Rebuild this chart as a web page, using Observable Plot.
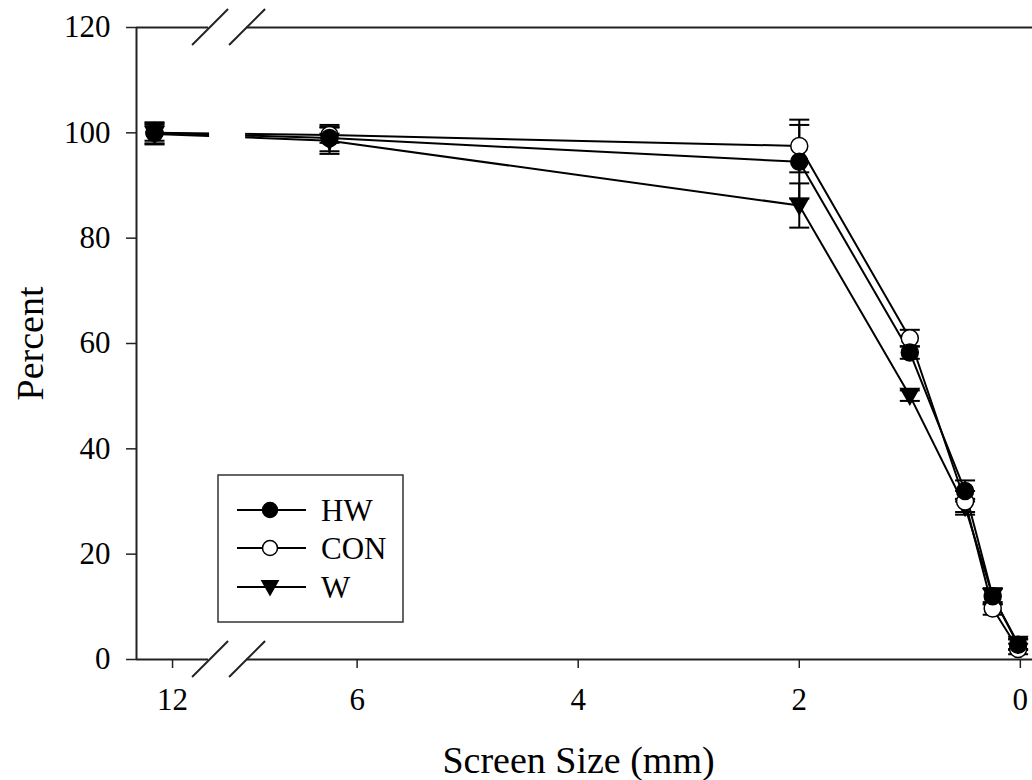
<!DOCTYPE html>
<html><head><meta charset="utf-8">
<script src="https://cdn.jsdelivr.net/npm/d3@7"></script>
<script src="https://cdn.jsdelivr.net/npm/@observablehq/plot@0.6"></script>
<style>body{margin:0;background:#fff}</style>
</head><body><div id="chart"></div>
<script>
// ---- data ----
const sizes = [12.5, 6.25, 2, 1, 0.5, 0.25, 0.02];
const seriesNames = ["HW", "CON", "W"];
const hwValues  = [100.0, 99.0, 94.5, 58.3, 32.0, 12.0, 2.8];
const hwErrors  = [2.0, 2.5, 7.0, 1.2, 2.0, 1.5, 1.0];
const conValues = [100.0, 99.6, 97.5, 61.0, 30.0, 9.7, 2.0];
const conErrors = [1.5, 1.5, 5.0, 1.6, 2.0, 1.2, 1.0];
const wValues   = [99.8, 98.5, 86.2, 50.1, 29.0, 12.0, 3.0];
const wErrors   = [2.0, 2.5, 4.2, 1.0, 1.5, 1.5, 1.0];
const xTickValues = [12, 6, 4, 2, 0];
const xTickLabels = ["12", "6", "4", "2", "0"];
const yTickValues = [0, 20, 40, 60, 80, 100, 120];
const xTitle = "Screen Size (mm)";
const yTitle = "Percent";

// ---- broken x axis: left segment 13..11 compressed, right segment 7..0 ----
const xpos = v => v >= 10 ? 7.344 + (v - 11) * 0.326 : v;
const xLeftEdge = xpos(13), breakLo = xpos(11), breakHi = 7, xRightEdge = -0.11;

const valuesBySeries = [hwValues, conValues, wValues];
const errorsBySeries = [hwErrors, conErrors, wErrors];
const rows = [];
seriesNames.forEach((s, k) => sizes.forEach((sz, i) => rows.push({
  series: s, size: sz, value: valuesBySeries[k][i], err: errorsBySeries[k][i]
})));

// symbols
const triDown = {draw(ctx, size) {
  const r = Math.sqrt(size / Math.PI);
  ctx.moveTo(-r * 1.08, -r * 0.85);
  ctx.lineTo(r * 1.08, -r * 0.85);
  ctx.lineTo(0, r * 1.05);
  ctx.closePath();
}};
const capSym = {draw(ctx, size) {
  const r = Math.sqrt(size / Math.PI);
  ctx.moveTo(-r, 0); ctx.lineTo(r, 0);
}};
const circleSym = {draw(ctx, size) {
  const r = Math.sqrt(size / Math.PI);
  ctx.moveTo(r, 0); ctx.arc(0, 0, r, 0, 2 * Math.PI);
}};
const styleOf = {
  HW: {symbol: circleSym, fill: "black"},
  CON: {symbol: circleSym, fill: "white"},
  W: {symbol: triDown, fill: "black"}
};
const drawOrder = ["W", "CON", "HW"];

const X = d => xpos(d.size);
const FONT = "'Liberation Serif', 'Times New Roman', serif";

function breakMark(index, scales, values, dims) {
  const {x, y} = scales;
  const g = d3.create("svg:g");
  const xa = x(breakLo), xb = x(breakHi);
  const yT = y(120), yB = y(0);
  g.append("rect").attr("x", xa + 1).attr("y", yT + 2)
    .attr("width", xb - xa - 2).attr("height", yB - yT - 4).attr("fill", "white");
  for (const yy of [yT, yB]) for (const xx of [xa + 2, xb + 1]) {
    g.append("line").attr("x1", xx - 18).attr("y1", yy + 18)
      .attr("x2", xx + 18).attr("y2", yy - 18)
      .attr("stroke", "#222").attr("stroke-width", 2);
  }
  return g.node();
}

function legendMark(index, scales, values, dims) {
  const g = d3.create("svg:g");
  const left = dims.marginLeft + 82;
  const top = dims.height - dims.marginBottom - 184;
  g.append("rect").attr("x", left).attr("y", top).attr("width", 185).attr("height", 147)
    .attr("fill", "white").attr("stroke", "#333").attr("stroke-width", 1.5);
  const rowsY = [35, 73, 112];
  seriesNames.forEach((s, i) => {
    const yy = top + rowsY[i];
    g.append("line").attr("x1", left + 19).attr("x2", left + 88).attr("y1", yy).attr("y2", yy)
      .attr("stroke", "black").attr("stroke-width", 2);
    const p = d3.path();
    styleOf[s].symbol.draw(p, Math.PI * 7.5 * 7.5);
    g.append("path").attr("d", p.toString()).attr("transform", `translate(${left + 52},${yy})`)
      .attr("fill", styleOf[s].fill).attr("stroke", "black").attr("stroke-width", 1.5);
    g.append("text").attr("x", left + 103).attr("y", yy).attr("dy", "0.35em")
      .attr("text-anchor", "start")
      .attr("font-family", FONT).attr("font-size", 31).attr("fill", "black").text(s);
  });
  return g.node();
}

const frameSegs = [{a: xLeftEdge, b: breakLo}, {a: breakHi, b: xRightEdge}];

const chart = Plot.plot({
  width: 1032, height: 780,
  marginLeft: 136, marginRight: 0, marginTop: 27, marginBottom: 121,
  style: {fontFamily: FONT, background: "white", color: "black"},
  x: {domain: [xLeftEdge, xRightEdge], label: null},
  y: {domain: [0, 120], label: null},
  marks: [
    Plot.ruleY(frameSegs, {y: () => 0, x1: "a", x2: "b", stroke: "#222", strokeWidth: 2}),
    Plot.ruleY(frameSegs, {y: () => 120, x1: "a", x2: "b", stroke: "#222", strokeWidth: 2}),
    Plot.ruleX([xLeftEdge], {y1: 0, y2: 120, stroke: "#222", strokeWidth: 2}),
    Plot.axisY({ticks: yTickValues, tickSize: 10, tickFormat: () => "", stroke: "#222", strokeWidth: 1.5, label: null}),
    Plot.axisX({ticks: xTickValues.map(xpos), tickFormat: () => "", tickSize: 9, stroke: "#222", strokeWidth: 1.5, label: null}),
    Plot.text(yTickValues, {y: d => d, text: d => String(d), frameAnchor: "left", textAnchor: "end", lineAnchor: "middle", dx: -26, fontSize: 31, fill: "black"}),
    Plot.text(xTickValues, {x: d => xpos(d), text: (d, i) => xTickLabels[i], frameAnchor: "bottom", textAnchor: "middle", lineAnchor: "middle", dy: 41, fontSize: 31, fill: "black"}),
    Plot.line(rows, {x: X, y: "value", z: "series", stroke: "black", strokeWidth: 2}),
    breakMark,
    Plot.ruleX(rows, {x: X, y1: d => d.value - d.err, y2: d => d.value + d.err, stroke: "black", strokeWidth: 2}),
    Plot.dot(rows, {x: X, y: d => d.value + d.err, symbol: () => capSym, r: 10, stroke: "black", strokeWidth: 2, fill: "none"}),
    Plot.dot(rows, {x: X, y: d => d.value - d.err, symbol: () => capSym, r: 10, stroke: "black", strokeWidth: 2, fill: "none"}),
    ...drawOrder.map(s => Plot.dot(rows.filter(d => d.series === s), {
      x: X, y: "value", symbol: () => styleOf[s].symbol, r: 8.5,
      fill: styleOf[s].fill, stroke: "black", strokeWidth: 1.5
    })),
    legendMark,
    Plot.text([xTitle], {text: d => d, frameAnchor: "bottom", textAnchor: "middle", lineAnchor: "middle", dy: 101, dx: -6, fontSize: 38, fill: "black"}),
    Plot.text([yTitle], {text: d => d, frameAnchor: "left", textAnchor: "middle", lineAnchor: "middle", dx: -106, rotate: -90, fontSize: 38, fill: "black"})
  ]
});
document.getElementById("chart").appendChild(chart);
</script>
</body></html>
